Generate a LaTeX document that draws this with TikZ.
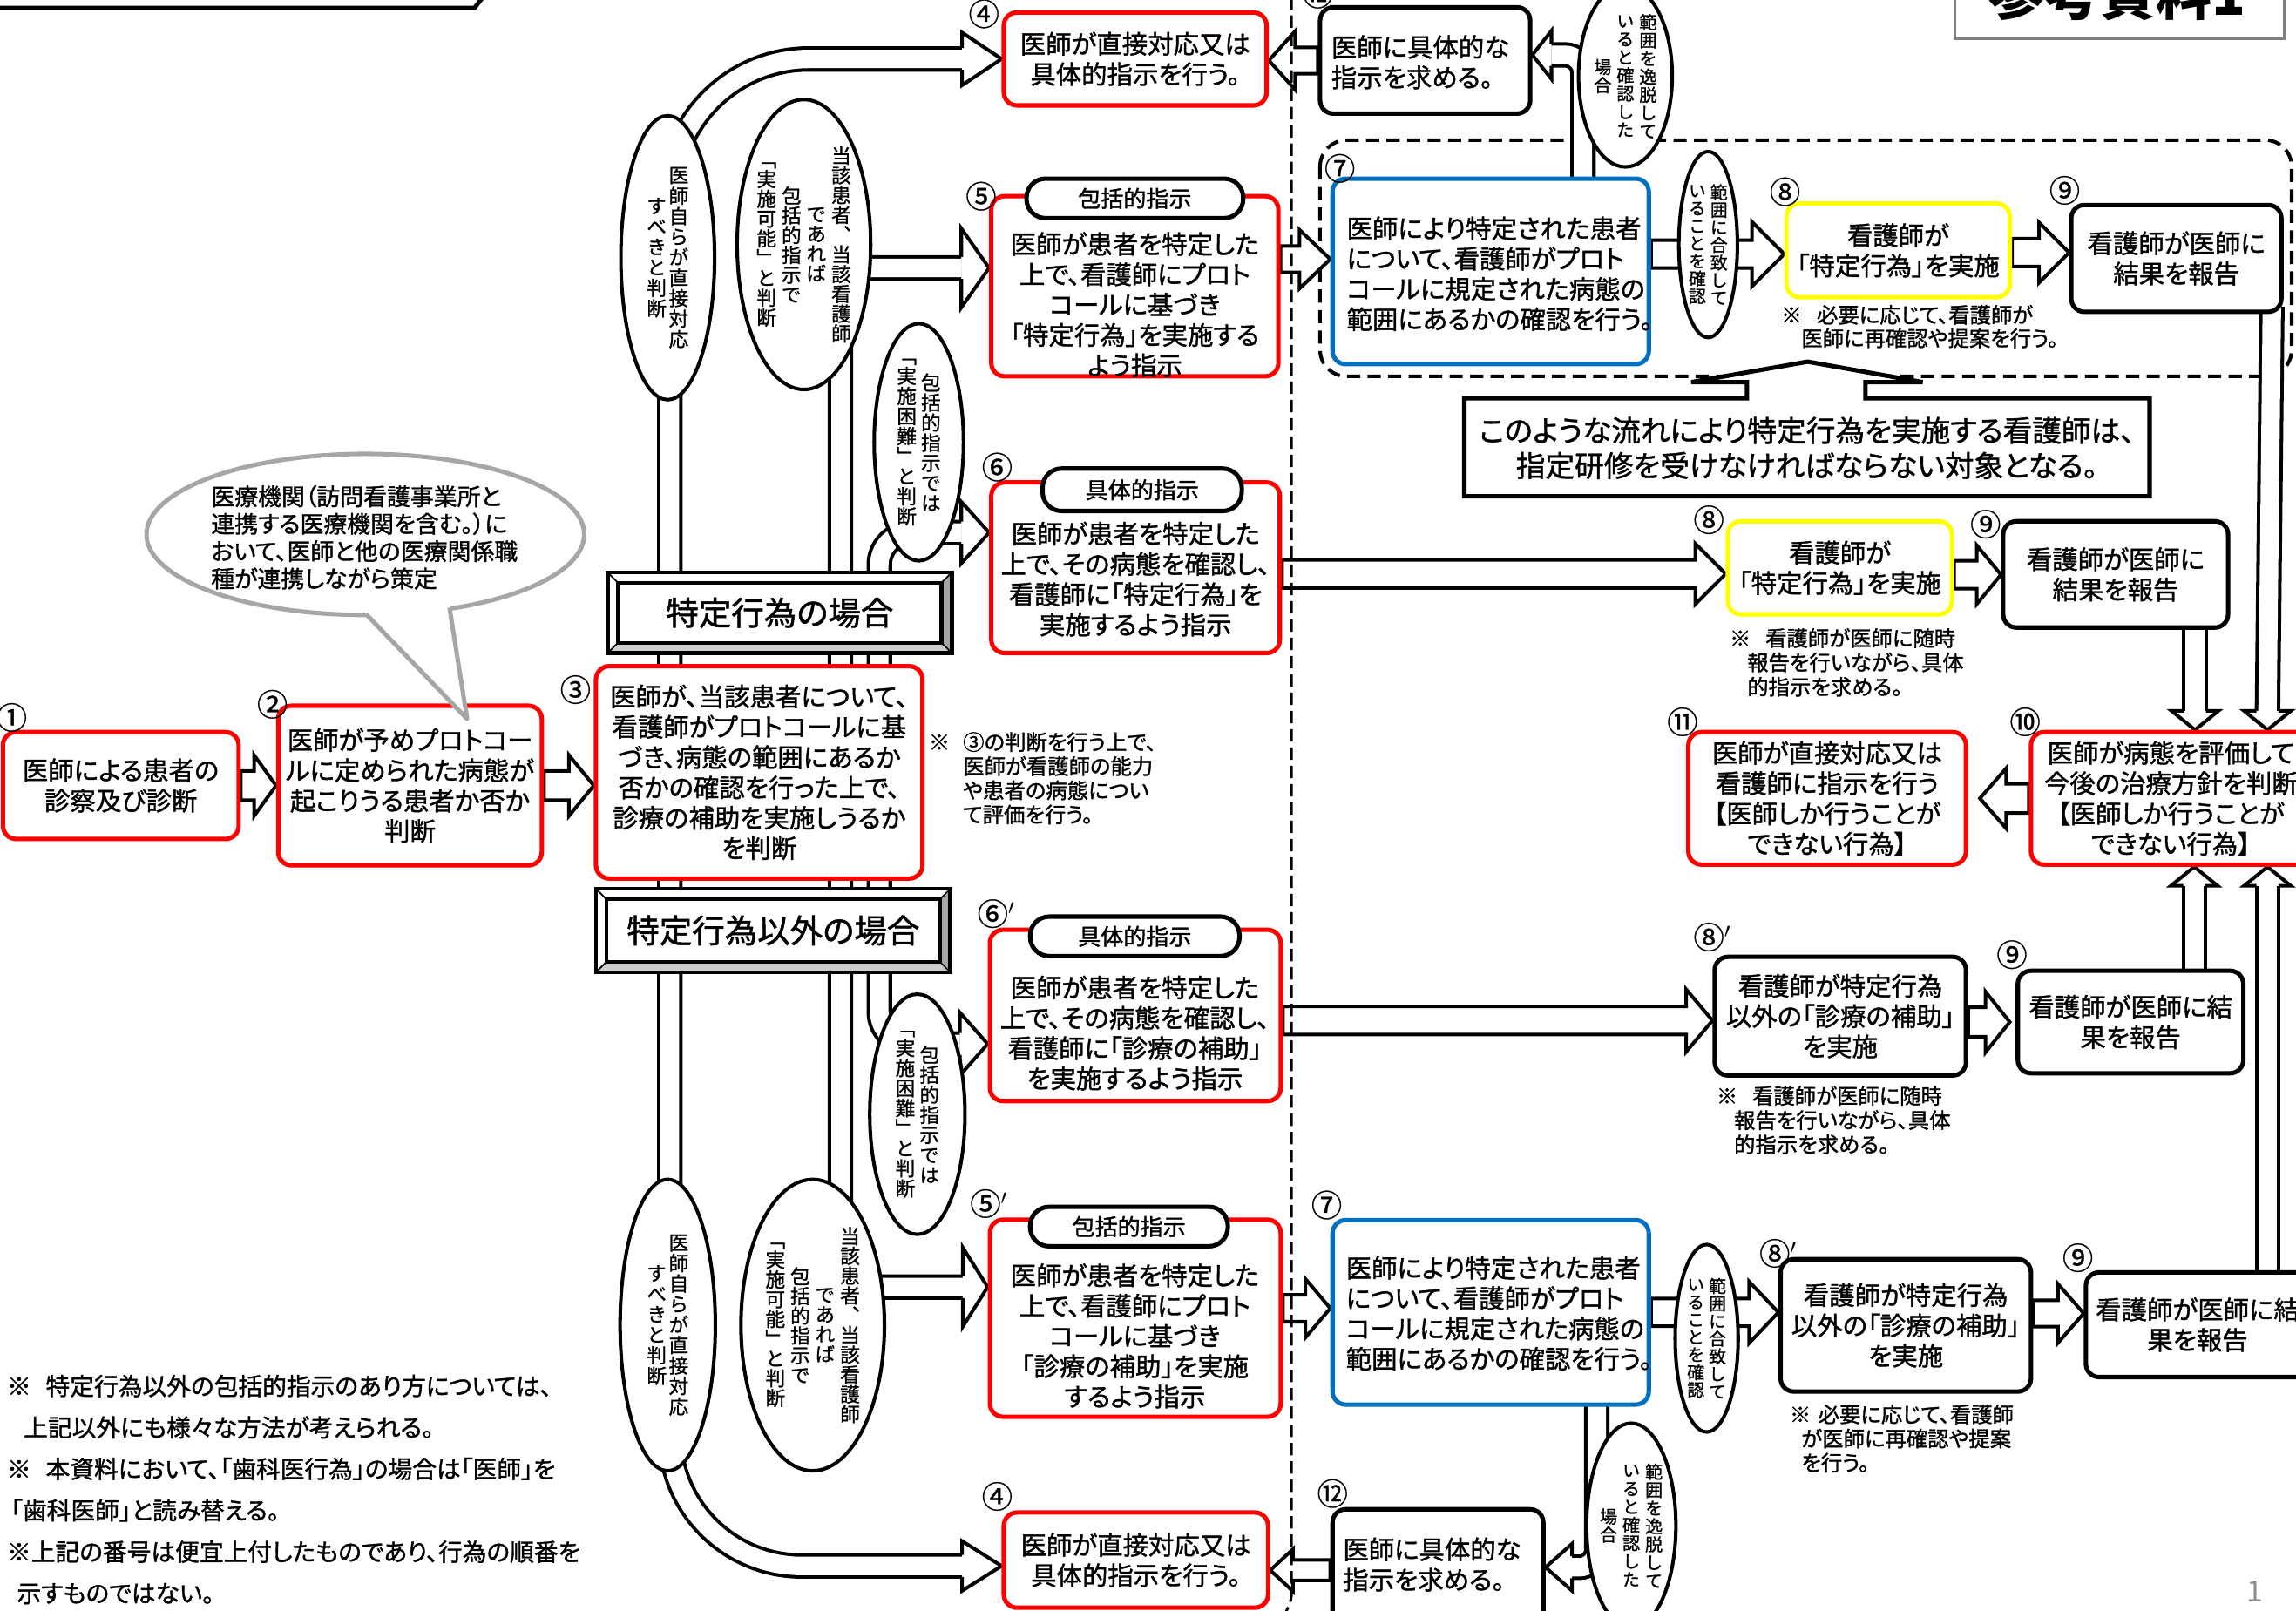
\documentclass[tikz,border=0pt]{standalone}
\usepackage{fontspec}
\usetikzlibrary{calc,shapes.geometric}
\newfontfamily\jp{Noto Sans CJK JP}[RawFeature=+palt,FakeBold=1.3]
\newfontfamily\jpv{Noto Sans CJK JP}[RawFeature=+vert,FakeBold=1.1]
\newfontfamily\jpn{Noto Sans CJK JP}[FakeBold=0.8]
\newfontfamily\jpt{Noto Sans CJK JP}
\definecolor{boxred}{RGB}{255,0,0}
\definecolor{boxblue}{RGB}{0,112,192}
\definecolor{boxyellow}{RGB}{255,255,0}
\definecolor{bubblegrey}{RGB}{166,166,166}
\definecolor{bevelgrey}{RGB}{165,165,165}
\definecolor{bevellight}{RGB}{205,205,205}
\definecolor{titlegray}{RGB}{128,128,128}
\definecolor{pgray}{RGB}{140,140,140}
\makeatletter
\def\vc@aux#1{\ifx\relax#1\else\hbox to 1em{\hss#1\hss}\expandafter\vc@aux\fi}
\newcommand\vcol[2][1em]{\vbox to 0pt{\baselineskip=#1\relax\lineskiplimit=-100pt\lineskip=0pt\vss\vc@aux#2\relax\vss}}
\makeatother
\pgfdeclarelayer{bg}
\pgfsetlayers{bg,main}
\tikzset{
  box/.style={rectangle, rounded corners=9pt, line width=3pt, fill=white, inner sep=0pt, align=center, font=\jp\fontsize{17.5}{20.7}\selectfont},
  redbox/.style={box, draw=boxred},
  blkbox/.style={box, draw=black},
  bluebox/.style={box, draw=boxblue},
  yelbox/.style={box, draw=boxyellow},
  txt/.style={inner sep=0pt, align=center, font=\jp\fontsize{17.5}{20.7}\selectfont},
  ltxt/.style={txt, align=left, anchor=west},
  pill/.style={rectangle, rounded corners=13pt, draw=black, line width=3pt, fill=white, inner sep=0pt, font=\jp\fontsize{15.5}{18}\selectfont},
  vell/.style={ellipse, draw=black, line width=2.4pt, fill=white, inner sep=0pt},
  vbig/.style={vell, font=\jpv\fontsize{13.5}{14}\selectfont},
  vsmall/.style={vell, font=\jpv\fontsize{12}{12.4}\selectfont},
  vtiny/.style={vell, font=\jpv\fontsize{11.8}{12}\selectfont},
  num/.style={inner sep=0pt, font=\jpn\fontsize{21}{21}\selectfont},
  note/.style={inner sep=0pt, align=left, anchor=west, font=\jp\fontsize{14.5}{16.5}\selectfont},
  pipe/.style={draw=black, line width=2.4pt, double=white, double distance=12.6pt},
  barR/.style n args={3}{draw=black, fill=white, line width=2.4pt, line join=miter, to path={let \p1=(\tikztostart), \p2=(\tikztotarget) in (\x1,\y1+#1) -- (\x2-#3,\y1+#1) -- (\x2-#3,\y1+#2) -- (\x2,\y1) -- (\x2-#3,\y1-#2) -- (\x2-#3,\y1-#1) -- (\x1,\y1-#1) -- cycle}},
  barL/.style n args={3}{draw=black, fill=white, line width=2.4pt, line join=miter, to path={let \p1=(\tikztostart), \p2=(\tikztotarget) in (\x1,\y1+#1) -- (\x2+#3,\y1+#1) -- (\x2+#3,\y1+#2) -- (\x2,\y1) -- (\x2+#3,\y1-#2) -- (\x2+#3,\y1-#1) -- (\x1,\y1-#1) -- cycle}},
  headH/.style 2 args={draw=black, fill=white, line width=2.4pt, line join=miter, to path={let \p1=(\tikztostart), \p2=(\tikztotarget) in (\x1,\y1+#1) -- (\x1,\y1+#2) -- (\x2,\y1) -- (\x1,\y1-#2) -- (\x1,\y1-#1)}},
  headV/.style 2 args={draw=black, fill=white, line width=2.4pt, line join=miter, to path={let \p1=(\tikztostart), \p2=(\tikztotarget) in (\x1+#1,\y1) -- (\x1+#2,\y1) -- (\x1,\y2) -- (\x1-#2,\y1) -- (\x1-#1,\y1)}},
}
\newcommand\BX[7]{\node[#6, minimum width={(#4)-(#2)}, minimum height={(#5)-(#3)}] (#1) at ({((#2)+(#4))/2},{((#3)+(#5))/2}) {#7};}
\newcommand\CN[4]{\node[num] (#1) at (#2,#3) {#4};}
\newcommand\bevel[6]{%
  \fill[white] (#2,#3) rectangle (#4,#5);
  \fill[bevelgrey] (#4,#3) -- (#4,#5) -- ({#4-7},{#5-7}) -- ({#4-7},{#3+7}) -- cycle;
  \fill[bevellight] (#2,#5) -- (#4,#5) -- ({#4-7},{#5-7}) -- ({#2+7},{#5-7}) -- cycle;
  \draw[line width=2.8pt] (#2,#3) rectangle (#4,#5);
  \draw[line width=2.6pt] ({#2+7},{#3+7}) rectangle ({#4-7},{#5-7});
  \draw[line width=1pt] (#2,#3) -- ({#2+7},{#3+7}) (#4,#3) -- ({#4-7},{#3+7}) (#2,#5) -- ({#2+7},{#5-7}) (#4,#5) -- ({#4-7},{#5-7});
  \node[inner sep=0pt, font=\jp\fontsize{22.3}{24}\selectfont] (#1) at ({(#2+#4)/2},{(#3+#5)/2}) {#6};}
\begin{document}
\begin{tikzpicture}[x=1pt,y=-1pt]
\useasboundingbox (0,0) rectangle (1568,1100);
% partial title shapes at the top edge
\draw[line width=3pt] (-5,5.5) -- (324,5.5) -- (333,-6);
\draw[draw=titlegray, line width=1.5pt, fill=white] (1335,-30) rectangle (1560,26.6);
\node[inner sep=0pt, font=\jpt\bfseries\fontsize{38}{38}\selectfont] (title) at (1446,-4) {参考資料1};
% boxes
\BX{b1}{2}{500}{163}{573}{redbox}{医師による患者の\\診察及び診断}
\BX{b2}{190}{482}{370}{591}{redbox}{医師が予めプロトコー\\ルに定められた病態が\\起こりうる患者か否か\\判断}
\BX{b3}{407}{455}{630}{600}{redbox}{医師が、当該患者について、\\看護師がプロトコールに基\\づき、病態の範囲にあるか\\否かの確認を行った上で、\\診療の補助を実施しうるか\\を判断}
\BX{b4a}{685.5}{8.5}{865}{72}{redbox}{医師が直接対応又は\\具体的指示を行う。}
\BX{b5}{677}{134}{873}{257}{redbox}{}
\node[txt] (t5) at (775,208) {医師が患者を特定した\\上で、看護師にプロト\\コールに基づき\\「特定行為」を実施する\\よう指示};
\node[pill, minimum width=148pt, minimum height=27pt] (p5) at (775,135.5) {包括的指示};
\BX{b6}{677}{329.5}{874}{446}{redbox}{}
\node[txt] (t6) at (775.5,395.5) {医師が患者を特定した\\上で、その病態を確認し、\\看護師に「特定行為」を\\実施するよう指示};
\node[pill, minimum width=136pt, minimum height=29pt] (p6) at (780,334.5) {具体的指示};
\BX{b12a}{901.5}{5}{1045}{77.6}{blkbox}{}
\node[ltxt] (t12a) at (909,42.5) {医師に具体的な\\指示を求める。};
\BX{b7a}{910}{122}{1126}{248.7}{bluebox}{}
\node[ltxt] (t7a) at (919.5,187) {医師により特定された患者\\について、看護師がプロト\\コールに規定された病態の\\範囲にあるかの確認を行う。};
\BX{b8a}{1220}{139}{1372.5}{203}{yelbox}{看護師が\\「特定行為」を実施}
\BX{b9a}{1414.5}{140}{1558}{213}{blkbox}{看護師が医師に\\結果を報告}
\BX{b8b}{1180}{356}{1333}{419.6}{yelbox}{看護師が\\「特定行為」を実施}
\BX{b9b}{1368}{356}{1521.6}{428.6}{blkbox}{看護師が医師に\\結果を報告}
\BX{b10}{1387}{500}{1578}{590.5}{redbox}{医師が病態を評価して\\今後の治療方針を判断\\【医師しか行うことが\\できない行為】}
\BX{b11}{1153}{500}{1342.6}{590.5}{redbox}{医師が直接対応又は\\看護師に指示を行う\\【医師しか行うことが\\できない行為】}
\BX{b6p}{676}{635}{874.6}{752}{redbox}{}
\node[txt] (t6p) at (775,705.5) {医師が患者を特定した\\上で、その病態を確認し、\\看護師に「診療の補助」\\を実施するよう指示};
\node[pill, minimum width=143pt, minimum height=27pt] (p6p) at (775,639.5) {具体的指示};
\BX{b8p}{1171}{653.5}{1342.6}{734.5}{blkbox}{看護師が特定行為\\以外の「診療の補助」\\を実施}
\BX{b9c}{1378}{663}{1532}{733}{blkbox}{看護師が医師に結\\果を報告}
\BX{b5p}{676}{833}{874.6}{967.6}{redbox}{}
\node[txt] (t5p) at (775,912.4) {医師が患者を特定した\\上で、看護師にプロト\\コールに基づき\\「診療の補助」を実施\\するよう指示};
\node[pill, minimum width=135pt, minimum height=27pt] (p5p) at (771,837.7) {包括的指示};
\BX{b7b}{910}{833.3}{1126}{959.3}{bluebox}{}
\node[ltxt] (t7b) at (919,897) {医師により特定された患者\\について、看護師がプロト\\コールに規定された病態の\\範囲にあるかの確認を行う。};
\BX{b8q}{1216}{860}{1387}{950.4}{blkbox}{看護師が特定行為\\以外の「診療の補助」\\を実施}
\BX{b9d}{1424.5}{869}{1577}{940.5}{blkbox}{看護師が医師に結\\果を報告}
\BX{b12b}{910}{1030.8}{1054}{1110}{blkbox}{}
\node[ltxt] (t12b) at (917,1068.5) {医師に具体的な\\指示を求める。};
\BX{b4b}{685.5}{1033}{866}{1098}{redbox}{医師が直接対応又は\\具体的指示を行う。}
% ellipses with vertical text
\node[vbig, minimum width=64pt, minimum height=194pt] (e1) at (456,176) {\vcol[14pt]{すべきと判断}\kern1.5pt\vcol[14pt]{医師自らが直接対応}};
\node[vbig, minimum width=88pt, minimum height=198pt] (e2) at (549,167) {\vcol[13.5pt]{「実施可能」と判断}\kern3.5pt\vcol[13.5pt]{包括的指示で}\kern3.5pt\vcol[13.5pt]{であれば}\kern3.5pt\vcol[13.5pt]{当該患者、当該看護師}};
\node[vbig, minimum width=61pt, minimum height=162pt] (e3) at (627.5,302) {\vcol[13.7pt]{「実施困難」と判断}\kern3pt\vcol[13.7pt]{包括的指示では}};
\node[vbig, minimum width=65pt, minimum height=199pt] (e4) at (456,905) {\vcol[14pt]{すべきと判断}\kern1.5pt\vcol[14pt]{医師自らが直接対応}};
\node[vbig, minimum width=98pt, minimum height=199pt] (e5) at (555,905) {\vcol[13.5pt]{「実施可能」と判断}\kern3.5pt\vcol[13.5pt]{包括的指示で}\kern3.5pt\vcol[13.5pt]{であれば}\kern3.5pt\vcol[13.5pt]{当該患者、当該看護師}};
\node[vbig, minimum width=65pt, minimum height=164pt] (e6) at (626.5,761) {\vcol[13.7pt]{「実施困難」と判断}\kern3pt\vcol[13.7pt]{包括的指示では}};
\node[vsmall, minimum width=64pt, minimum height=124pt] (e7) at (1110,52) {\vcol[12.4pt]{場合}\kern3.5pt\vcol[12.4pt]{いると確認した}\kern3.5pt\vcol[12.4pt]{範囲を逸脱して}};
\node[vtiny, minimum width=40pt, minimum height=127pt] (e8) at (1166.5,167) {\vcol[12pt]{いることを確認}\kern3pt\vcol[12pt]{範囲に合致して}};
\node[vtiny, minimum width=43pt, minimum height=128pt] (e9) at (1165.5,914) {\vcol[12pt]{いることを確認}\kern3pt\vcol[12pt]{範囲に合致して}};
\node[vsmall, minimum width=61pt, minimum height=140pt] (e10) at (1114,1042) {\vcol[12.4pt]{場合}\kern3.5pt\vcol[12.4pt]{いると確認した}\kern3.5pt\vcol[12.4pt]{範囲を逸脱して}};
% bevel labels
\bevel{lab1}{415}{391}{650}{446}{特定行為の場合}
\bevel{lab2}{407}{607}{649}{664}{特定行為以外の場合}
% speech bubble
\node[ellipse, draw=bubblegrey, fill=white, line width=3pt, minimum width=299pt, minimum height=110pt, inner sep=0pt] (bubble) at (249.5,365) {};
\fill[white] (229,397) -- (319,491) -- (304,392) -- cycle;
\draw[bubblegrey, line width=3pt, line join=round] (250,419.5) -- (319,491) -- (307,415);
\node[note, font=\jp\fontsize{16}{18.7}\selectfont] (bt) at (144,367) {医療機関（訪問看護事業所と\\連携する医療機関を含む。）に\\おいて、医師と他の医療関係職\\種が連携しながら策定};
% summary callout box
\draw[line width=3pt, fill=white, line join=miter] (1000,272) -- (1193,272) -- (1193,261) -- (1155,261) -- (1234.5,247) -- (1313,261) -- (1274,261) -- (1274,272) -- (1468,272) -- (1468,339) -- (1000,339) -- cycle;
\node[txt, font=\jp\fontsize{20}{24}\selectfont] (sum) at (1234,306) {このような流れにより特定行為を実施する看護師は、\\指定研修を受けなければならない対象となる。};
% notes
\node[note] (n3) at (634,531.5) {※\hspace{9pt}③の判断を行う上で、\\\hspace*{23.5pt}医師が看護師の能力\\\hspace*{23.5pt}や患者の病態につい\\\hspace*{23.5pt}て評価を行う。};
\node[note, font=\jp\fontsize{14.5}{16}\selectfont] (n8a) at (1216,223) {※\hspace{10pt}必要に応じて、看護師が\\\hspace*{14pt}医師に再確認や提案を行う。};
\node[note, font=\jp\fontsize{14.5}{16.6}\selectfont] (n8b) at (1181,452.4) {※\hspace{10pt}看護師が医師に随時\\\hspace*{12pt}報告を行いながら、具体\\\hspace*{12pt}的指示を求める。};
\node[note, font=\jp\fontsize{14.5}{16.6}\selectfont] (n8p) at (1172,765) {※\hspace{10pt}看護師が医師に随時\\\hspace*{12pt}報告を行いながら、具体\\\hspace*{12pt}的指示を求める。};
\node[note, font=\jp\fontsize{14.5}{16.5}\selectfont] (n8q) at (1222,982.5) {※\hspace{5pt}必要に応じて、看護師\\\hspace*{8pt}が医師に再確認や提案\\\hspace*{8pt}を行う。};
\node[note, font=\jp\fontsize{16.5}{28.3}\selectfont] (nfoot) at (1,1017.3) {\hspace*{3.6pt}※\hspace{10pt}特定行為以外の包括的指示のあり方については、\\\hspace*{15pt}上記以外にも様々な方法が考えられる。\\\hspace*{3.6pt}※\hspace{10pt}本資料において、「歯科医行為」の場合は「医師」を\\\hspace*{6pt}「歯科医師」と読み替える。\\\hspace*{3.6pt}※上記の番号は便宜上付したものであり、行為の順番を\\\hspace*{10.4pt}示すものではない。};
\node[inner sep=0pt, font=\jpt\fontsize{20}{20}\selectfont, text=pgray] (pnum) at (1540,1087) {1};
% circled numbers
\CN{c1}{8}{490}{①}
\CN{c2}{186}{481}{②}
\CN{c3}{393}{471}{③}
\CN{c4a}{672}{9.5}{④}
\CN{c5}{670}{134}{⑤}
\CN{c6}{681}{319}{⑥}
\CN{c6p}{678}{624}{⑥\rlap{$^{\prime}$}}
\CN{c5p}{673}{822}{⑤\rlap{$^{\prime}$}}
\CN{c4b}{681}{1022}{④}
\CN{c12a}{900}{-4}{⑫}
\CN{c7a}{915}{115}{⑦}
\CN{c8a}{1219}{131}{⑧}
\CN{c9a}{1410}{130}{⑨}
\CN{c8b}{1167}{355}{⑧}
\CN{c9b}{1356}{358}{⑨}
\CN{c10}{1383}{493}{⑩}
\CN{c11}{1149}{493}{⑪}
\CN{c8p}{1167}{640}{⑧\rlap{$^{\prime}$}}
\CN{c9c}{1374}{652}{⑨}
\CN{c7b}{906}{823}{⑦}
\CN{c8q}{1212}{856}{⑧\rlap{$^{\prime}$}}
\CN{c9d}{1419}{859}{⑨}
\CN{c12b}{910}{1020}{⑫}
% long dashed divider
\draw[line width=1.8pt, dash pattern=on 8.5pt off 4pt] (882,-2) -- (882,1088) to[out=90+180,in=70] (877,1104);
% connectors on background
\begin{pgfonlayer}{bg}
\draw[line width=2.4pt, dash pattern=on 9pt off 5pt, rounded corners=18pt] (901.5,95.7) rectangle (1565,257);
% pipes
\draw[pipe, rounded corners=95pt] ([xshift=52pt,yshift=-5pt]b3.north west) |- ([xshift=-27pt]b4a.west);
\draw[headH={7.5pt}{18pt}] ([xshift=-27pt]b4a.west) to (b4a.west);
\draw[pipe, rounded corners=22pt] ([xshift=168.5pt,yshift=-5pt]b3.north west) |- ([xshift=-19pt,yshift=12.5pt]b5.west);
\draw[headH={7.5pt}{27pt}] ([xshift=-19pt,yshift=12.5pt]b5.west) to ([yshift=12.5pt]b5.west);
\draw[pipe, rounded corners=22pt] ([xshift=195pt,yshift=-5pt]b3.north west) |- ([xshift=-19pt,yshift=24pt]b6.west);
\draw[headH={7.5pt}{21pt}] ([xshift=-19pt,yshift=24pt]b6.west) to ([yshift=24pt]b6.west);
\draw[pipe, rounded corners=90pt] ([xshift=52pt,yshift=5pt]b3.south west) |- ([xshift=-27pt,yshift=-4pt]b4b.west);
\draw[headH={7.5pt}{17pt}] ([xshift=-27pt,yshift=-4pt]b4b.west) to ([yshift=-4pt]b4b.west);
\draw[pipe, rounded corners=22pt] ([xshift=168.5pt,yshift=5pt]b3.south west) |- ([xshift=-17pt,yshift=21.3pt]b5p.west);
\draw[headH={7.5pt}{27pt}] ([xshift=-17pt,yshift=21.3pt]b5p.west) to ([yshift=21.3pt]b5p.west);
\draw[pipe, rounded corners=22pt] ([xshift=195pt,yshift=5pt]b3.south west) |- ([xshift=-19pt,yshift=-19.5pt]b6p.west);
\draw[headH={7.5pt}{21.5pt}] ([xshift=-19pt,yshift=-19.5pt]b6p.west) to ([yshift=-19.5pt]b6p.west);
\draw[pipe, rounded corners=12pt] ([xshift=172.5pt,yshift=-5pt]b7a.north west) |- ([xshift=13pt,yshift=3.8pt]b12a.east);
\draw[headH={7.5pt}{16.5pt}] ([xshift=13pt,yshift=3.8pt]b12a.east) to ([yshift=3.8pt]b12a.east);
\draw[pipe, rounded corners=12pt] ([xshift=182pt,yshift=5pt]b7b.south west) |- ([xshift=18pt]b12b.east);
\draw[headH={7.5pt}{16pt}] ([xshift=18pt]b12b.east) to (b12b.east);
\draw[pipe] ([xshift=-8pt,yshift=5pt]b9a.south east) -- ([xshift=163pt,yshift=13pt]b10.north west);
\draw[headV={7.5pt}{16pt}] ([xshift=163pt,yshift=13pt]b10.north west) to ([xshift=163pt]b10.north west);
\draw[pipe] ([xshift=132.5pt,yshift=5pt]b9b.south west) -- ([xshift=113.5pt,yshift=13pt]b10.north west);
\draw[headV={7.5pt}{16pt}] ([xshift=113.5pt,yshift=13pt]b10.north west) to ([xshift=113.5pt]b10.north west);
\draw[pipe] ([xshift=122pt,yshift=-5pt]b9c.north west) -- ([xshift=113pt,yshift=-13pt]b10.south west);
\draw[headV={7.5pt}{16pt}] ([xshift=113pt,yshift=-13pt]b10.south west) to ([xshift=113pt]b10.south west);
\draw[pipe] ([xshift=125.5pt,yshift=-5pt]b9d.north west) -- ([xshift=163pt,yshift=-13pt]b10.south west);
\draw[headV={7.5pt}{16pt}] ([xshift=163pt,yshift=-13pt]b10.south west) to ([xshift=163pt]b10.south west);
% block arrows
\draw[barR={10pt}{20.8pt}{15pt}] (b1.east) to (b2.west);
\draw[barR={10pt}{20.8pt}{17pt}] (b2.east) to (b3.west);
\draw[barR={9pt}{20pt}{21pt}] ([yshift=18.5pt]b5.east) to (b7a.west);
\draw[barR={9.5pt}{22pt}{22pt}] ([yshift=11.8pt]b7a.east) to (b8a.west);
\draw[barR={9.5pt}{20.5pt}{20.5pt}] ([yshift=-1.5pt]b8a.east) to (b9a.west);
\draw[barR={9.6pt}{20.7pt}{20.8pt}] ([yshift=-4.2pt]b6.east) to (b8b.west);
\draw[barR={9.5pt}{20pt}{16.5pt}] ([yshift=-4.7pt]b8b.east) to (b9b.west);
\draw[barL={10pt}{20.6pt}{18pt}] (b10.west) to ([xshift=8pt]b11.east);
\draw[barR={9.6pt}{21.3pt}{18pt}] ([yshift=-3.5pt]b6p.east) to (b8p.west);
\draw[barR={10pt}{20.7pt}{16.6pt}] ([yshift=-4pt]b8p.east) to ([xshift=-4pt]b9c.west);
\draw[barR={9.2pt}{20pt}{17pt}] ([yshift=6.8pt]b5p.east) to (b7b.west);
\draw[barR={9.4pt}{21pt}{20pt}] (b7b.east) to (b8q.west);
\draw[barR={9pt}{20pt}{17.5pt}] ([yshift=8.2pt]b8q.east) to (b9d.west);
\draw[barL={9pt}{20pt}{18pt}] (b12a.west) to (b4a.east);
\draw[barL={7pt}{14.4pt}{15.5pt}] ([yshift=-2pt]b12b.west) to (b4b.east);
\end{pgfonlayer}
\end{tikzpicture}
\end{document}
